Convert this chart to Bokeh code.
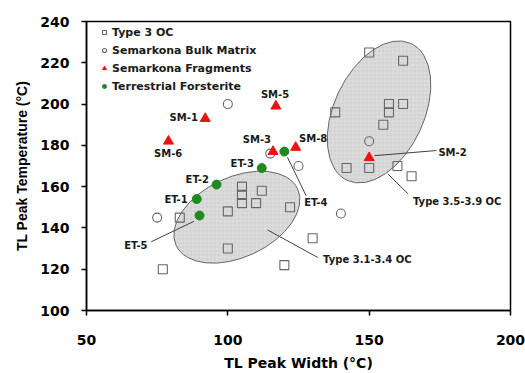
from bokeh.plotting import figure
from bokeh.models import Legend, LegendItem, Range1d, FixedTicker
from bokeh.core.properties import value
from bokeh.embed import file_html
from bokeh.resources import INLINE
import math

# ---------------- data ----------------
type3_x = [77, 83, 100, 105, 105, 105, 112, 110, 122, 100, 120, 130,
           150, 162, 138, 157, 162, 157, 155, 142, 150, 160, 165]
type3_y = [120, 145, 148, 160, 156, 152, 158, 152, 150, 130, 122, 135,
           225, 221, 196, 200, 200, 196, 190, 169, 169, 170, 165]

bulk_x = [75, 100, 115, 125, 140, 150]
bulk_y = [145, 200, 176, 170, 147, 182]

frag_names = ["SM-1", "SM-2", "SM-3", "SM-5", "SM-6", "SM-8"]
frag_x = [92, 150, 116, 117, 79, 124]
frag_y = [193, 174, 177, 199, 182, 179]

forst_names = ["ET-1", "ET-2", "ET-3", "ET-4", "ET-5"]
forst_x = [89, 96, 112, 120, 90]
forst_y = [154, 161, 169, 177, 146]

x_ticks = [50, 100, 150, 200]
y_ticks = [100, 120, 140, 160, 180, 200, 220, 240]

# group regions (center in data units, size in screen px, angle in degrees)
region_cx = [103.2, 153.5]
region_cy = [145.2, 196.2]
region_w = [134, 151]
region_h = [80, 90]
region_ang = [25, 65]

# annotation labels: text, x, y, align
label_text = ["SM-1", "SM-5", "SM-6", "SM-3", "SM-8", "SM-2",
              "ET-1", "ET-2", "ET-3", "ET-4", "ET-5",
              "Type 3.1-3.4 OC", "Type 3.5-3.9 OC"]
label_x = [89.4, 116.7, 78.9, 110.3, 125.2, 174.5,
           85.8, 93.3, 109.2, 127.0, 71.6, 133.7, 165.5]
label_y = [193.5, 204.4, 176.2, 182.6, 183.5, 176.7,
           153.9, 163.5, 171.0, 152.3, 131.7, 124.5, 152.6]
label_align = ["right", "center", "center", "center", "left", "left",
               "right", "right", "right", "left", "right", "left", "left"]

# leader lines
lead_x0 = [151.9, 121.1, 72.9, 114.1, 156.6]
lead_y0 = [175.0, 174.2, 133.3, 139.0, 166.2]
lead_x1 = [173.8, 127.7, 88.0, 131.8, 163.7]
lead_y1 = [177.5, 155.6, 143.2, 125.7, 156.6]

# ---------------- figure ----------------
p = figure(width=525, height=373, output_backend="svg", toolbar_location=None,
           x_range=Range1d(50, 200), y_range=Range1d(100, 240),
           min_border_left=86, min_border_right=15, min_border_top=21,
           min_border_bottom=62)
p.background_fill_color = "white"
p.border_fill_color = "white"
p.outline_line_color = "black"
p.outline_line_width = 1.5
p.grid.visible = False

# regions
p.ellipse(x=region_cx, y=region_cy, width=region_w, height=region_h,
          width_units="screen", height_units="screen",
          angle=[math.radians(a) for a in region_ang],
          fill_color="#dddddd", line_color="#666666", line_width=1,
          hatch_pattern="+", hatch_scale=4, hatch_color="#c8c8c8",
          hatch_weight=0.5)

# leader lines
p.segment(x0=lead_x0, y0=lead_y0, x1=lead_x1, y1=lead_y1,
          line_color="#404040", line_width=1)

# markers
r_sq = p.scatter(type3_x, type3_y, marker="square", size=9,
                 fill_color=None, line_color="#666666", line_width=1.1)
r_ci = p.scatter(bulk_x, bulk_y, marker="circle", size=9,
                 fill_color=None, line_color="#666666", line_width=1.1)
r_tr = p.scatter(frag_x, frag_y, marker="triangle", size=10,
                 fill_color="#ee1111", line_color="#ee1111")
r_gr = p.scatter(forst_x, forst_y, marker="circle", size=9,
                 fill_color="#1f8a1f", line_color="#1f8a1f")

# labels
for t, x, y, a in zip(label_text, label_x, label_y, label_align):
    p.text(x=[x], y=[y], text=[t], text_align=a, text_baseline="middle",
           text_font=value("DejaVu Sans"), text_font_style="bold",
           text_font_size="10px", text_color="#1a1a1a")

legend = Legend(items=[
    LegendItem(label="Type 3 OC", renderers=[r_sq]),
    LegendItem(label="Semarkona Bulk Matrix", renderers=[r_ci]),
    LegendItem(label="Semarkona Fragments", renderers=[r_tr]),
    LegendItem(label="Terrestrial Forsterite", renderers=[r_gr]),
], location=(13, 217), padding=0, margin=0, spacing=4,
    glyph_width=10, glyph_height=14, label_height=14, label_standoff=3,
    border_line_alpha=0, background_fill_alpha=0,
    label_text_font="DejaVu Sans", label_text_font_style="bold",
    label_text_font_size="11px", label_text_color="#1a1a1a")
p.add_layout(legend, "center")

# axes
for ax in (p.xaxis[0], p.yaxis[0]):
    ax.axis_line_color = "black"
    ax.axis_line_width = 1.5
    ax.major_tick_line_color = "black"
    ax.major_tick_line_width = 1.5
    ax.major_tick_out = 5
    ax.major_tick_in = 0
    ax.minor_tick_line_color = None
    ax.major_label_text_font = "DejaVu Sans"
    ax.major_label_text_font_style = "bold"
    ax.major_label_text_font_size = "14px"
    ax.major_label_text_color = "black"
    ax.axis_label_text_font_style = "bold"
    ax.axis_label_text_font_size = "14px"
    ax.axis_label_text_color = "black"

p.xaxis.ticker = FixedTicker(ticks=x_ticks)
p.yaxis.ticker = FixedTicker(ticks=y_ticks)
p.xaxis.axis_label = "TL Peak Width (°C)"
p.yaxis.axis_label = "TL Peak Temperature (°C)"
p.xaxis.axis_label_text_font = "DejaVu Sans"
p.yaxis.axis_label_text_font = "Liberation Sans"
p.xaxis.major_label_standoff = 19
p.yaxis.major_label_standoff = 12
p.xaxis.axis_label_standoff = 7
p.yaxis.axis_label_standoff = 7

open("out.html", "w").write(file_html(p, INLINE))
